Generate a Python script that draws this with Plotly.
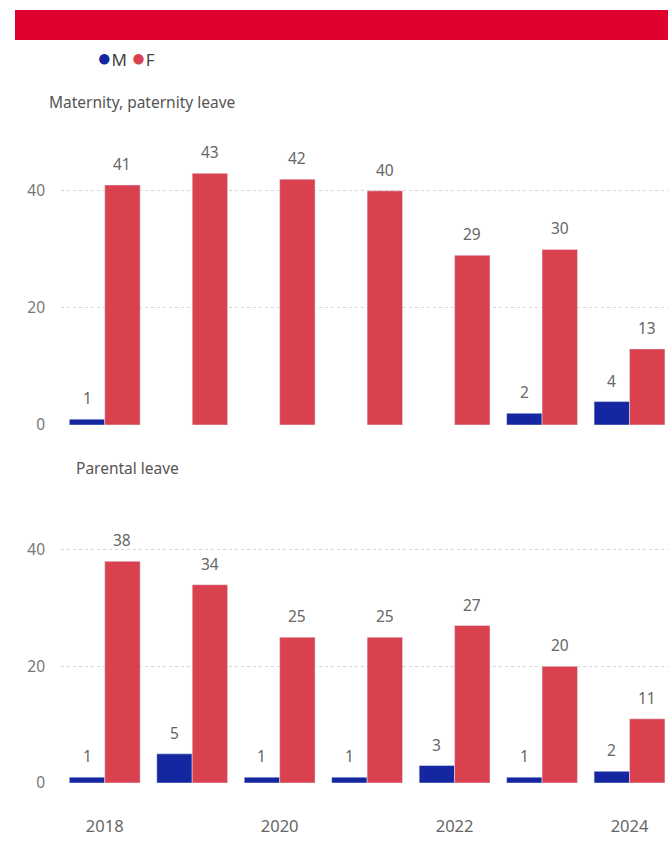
import plotly.graph_objects as go
from plotly.subplots import make_subplots

W, H = 668, 841

years = [2018, 2019, 2020, 2021, 2022, 2023, 2024]
x_ticks = [2018, 2020, 2022, 2024]

# Maternity, paternity leave
mat_m = [1, None, None, None, None, 2, 4]
mat_f = [41, 43, 42, 40, 29, 30, 13]

# Parental leave
par_m = [1, 5, 1, 1, 3, 1, 2]
par_f = [38, 34, 25, 25, 27, 20, 11]

BLUE = "#1427A0"
RED = "#D9414F"
BAND = "#E0002E"
FONT = "Noto Sans"
BARGAP = 0.19

def px_y(p):
    return 1 - p / H

def px_x(p):
    return p / W

fig = make_subplots(rows=2, cols=1, shared_xaxes=True)

for row, m_vals, f_vals in [(1, mat_m, mat_f), (2, par_m, par_f)]:
    fig.add_trace(go.Bar(x=years, y=m_vals, name="M", marker_color=BLUE,
                         showlegend=False), row=row, col=1)
    fig.add_trace(go.Bar(x=years, y=f_vals, name="F", marker_color=RED,
                         showlegend=False), row=row, col=1)

# value labels above the bars
half = (1 - BARGAP) / 4
annos = []
for yref, m_vals, f_vals in [("y", mat_m, mat_f), ("y2", par_m, par_f)]:
    xref = "x" if yref == "y" else "x2"
    for yr, mv, fv in zip(years, m_vals, f_vals):
        for val, dx in [(mv, -half), (fv, half)]:
            if val is None:
                continue
            annos.append(dict(x=yr + dx, y=val, xref=xref, yref=yref,
                              text=str(val), showarrow=False, yanchor="bottom",
                              yshift=8, font=dict(size=15.5, color="#666666", family=FONT)))

annos += [
    dict(x=px_x(47), y=px_y(102), xref="paper", yref="paper", xanchor="left",
         yanchor="middle", text="Maternity, paternity leave", showarrow=False,
         font=dict(size=15.5, color="#555555", family=FONT)),
    dict(x=px_x(74), y=px_y(468), xref="paper", yref="paper", xanchor="left",
         yanchor="middle", text="Parental leave", showarrow=False,
         font=dict(size=15.5, color="#555555", family=FONT)),
    dict(x=px_x(95), y=px_y(57), xref="paper", yref="paper", xanchor="left",
         yanchor="middle", showarrow=False,
         text=(f"<span style='color:{BLUE};font-size:24px'>●</span>M "
               f"<span style='color:{RED};font-size:24px'>●</span>F"),
         font=dict(size=17, color="#444444", family=FONT)),
]

fig.update_layout(
    width=W, height=H,
    margin=dict(l=0, r=0, t=0, b=0, autoexpand=False),
    paper_bgcolor="white", plot_bgcolor="white",
    barmode="group", bargap=BARGAP, bargroupgap=0,
    font=dict(family=FONT, color="#666666"),
    annotations=annos,
    shapes=[dict(type="rect", xref="paper", yref="paper",
                 x0=px_x(15), x1=1, y0=px_y(40), y1=px_y(10),
                 fillcolor=BAND, line_width=0)],
)

xdom = [px_x(61), 1]
fig.update_xaxes(domain=xdom, range=[2017.5, 2024.44], showgrid=False,
                 zeroline=False, showline=False, ticks="", automargin=False)
fig.update_xaxes(showticklabels=False, row=1, col=1)
fig.update_xaxes(tickvals=x_ticks, ticktext=[str(v) for v in x_ticks],
                 showticklabels=True, ticklabelstandoff=31,
                 tickfont=dict(size=16.5, color="#666666"), row=2, col=1)

ycommon = dict(range=[0, 48], tickvals=[0, 20, 40], showgrid=True,
               gridcolor="#D6D6D6", griddash="dot", gridwidth=1,
               zeroline=False, showline=False, ticks="", automargin=False,
               ticklabelstandoff=15, tickfont=dict(size=15.5, color="#777777"))
fig.update_yaxes(domain=[px_y(425), px_y(144)], row=1, col=1, **ycommon)
fig.update_yaxes(domain=[px_y(783), px_y(503)], row=2, col=1, **ycommon)

fig.write_html("out.html", config={"displayModeBar": False},
               post_script="document.body.style.margin='0';")
